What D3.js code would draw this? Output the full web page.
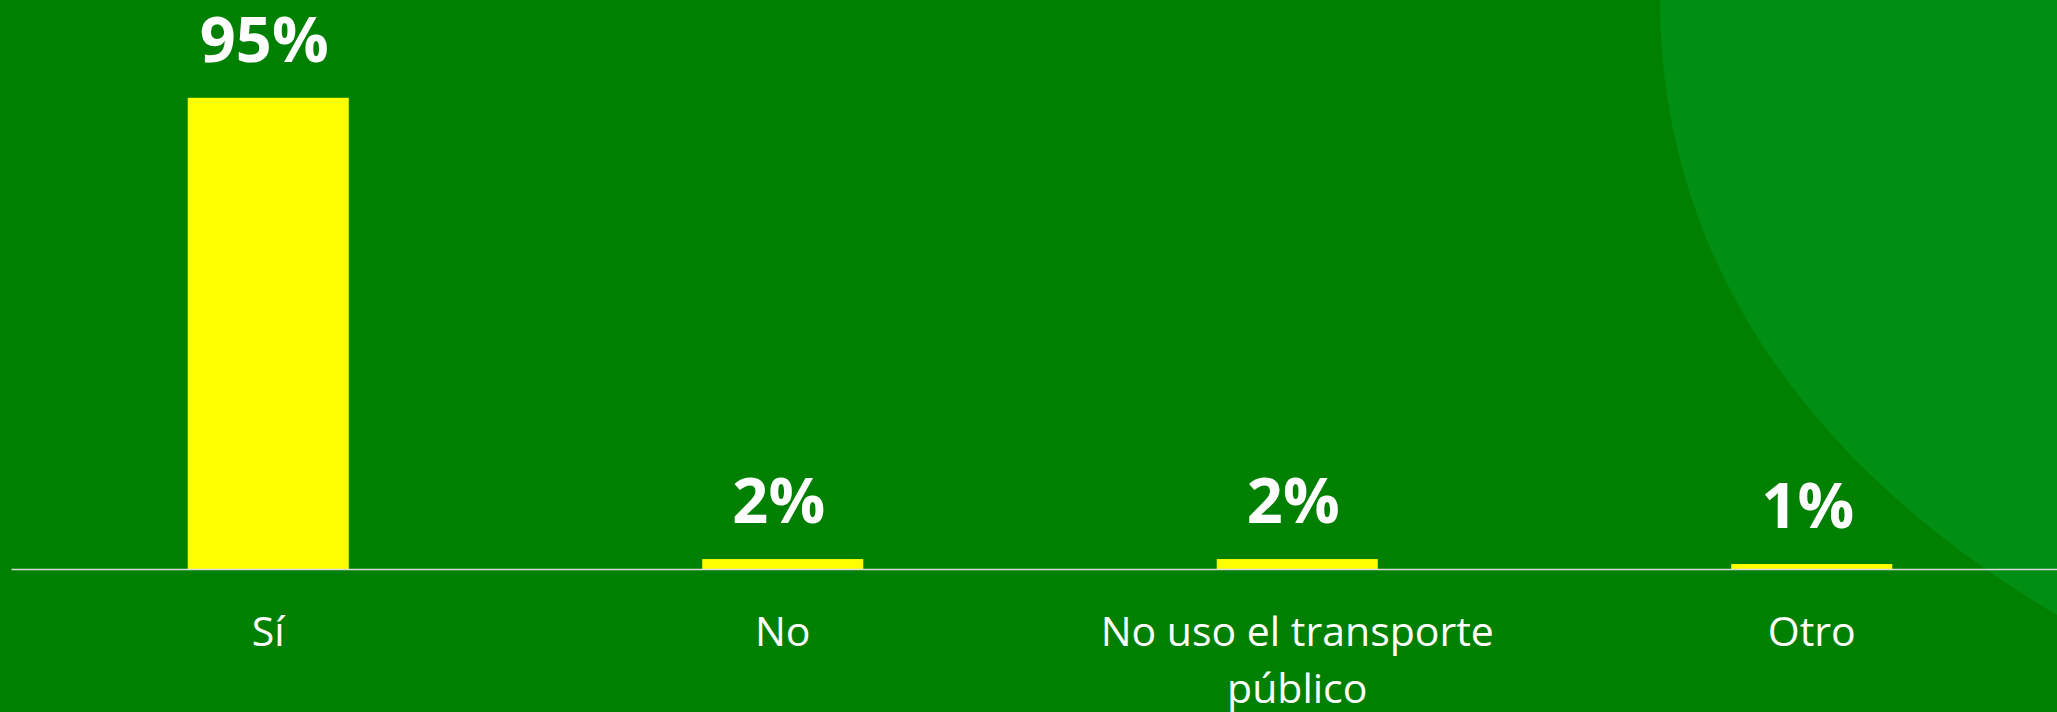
<!DOCTYPE html>
<html>
<head>
<meta charset="utf-8">
<script src="https://cdn.jsdelivr.net/npm/d3@7"></script>
<style>
  html, body { margin: 0; padding: 0; background: #008000; overflow: hidden; }
  svg { display: block; }
</style>
</head>
<body>
<svg id="chart"></svg>
<script>
// chart data
const categories = ["Sí", "No", "No uso el transporte público", "Otro"];
const values = [95, 2, 2, 1];
const valueLabels = ["95%", "2%", "2%", "1%"];

const width = 2057;
const height = 712;
const margin = {
    "left": 11,
    "right": -12,
    "top": 73,
    "bottom": 143
};

const svg = d3.select("#chart")
    .attr("width", width)
    .attr("height", height)
    .style("font-family", "'Open Sans', 'Noto Sans', sans-serif");

// background + the lighter curved shape at the right
svg.append("rect")
    .attr("width", width)
    .attr("height", height)
    .attr("fill", "#008000");

const deco = d3.path();
deco.moveTo(1660, 0);
deco.bezierCurveTo(1660, 250, 1799, 462, width, 615);
deco.lineTo(width, 0);
deco.closePath();
svg.append("path")
    .attr("d", deco.toString())
    .attr("fill", "#008f13");

// defining x-axis
const xScale = d3
    .scaleBand()
    .domain(categories)
    .range([margin.left, width - margin.right])
    .paddingInner(0.687)
    .paddingOuter(0.3435);

// defining y-axis
const yScale = d3
    .scaleLinear()
    .domain([0, 100])
    .range([height - margin.bottom, margin.top]);

const baseY = yScale(0);

svg.selectAll(".bar")
    .data(values)
    .enter()
    .append("rect")
    .attr("class", "bar")
    .attr("x", (d, i) => xScale(categories[i]))
    .attr("y", d => yScale(d))
    .attr("width", xScale.bandwidth())
    .attr("height", d => baseY - yScale(d))
    .attr("fill", "#ffff00");

const xAxis = d3
    .axisBottom(xScale)
    .tickSize(0)
    .tickPadding(0);

const xAxisGroup = svg.append("g")
    .attr("transform", `translate(0, ${baseY})`)
    .call(xAxis);

xAxisGroup.select(".domain")
    .attr("stroke", "#d9d9d9")
    .attr("stroke-width", 1.6);

xAxisGroup.selectAll(".tick text")
    .attr("fill", "#ffffff")
    .attr("font-size", 41)
    .attr("font-family", "'Open Sans', 'Noto Sans', sans-serif")
    .attr("y", 77)
    .attr("dy", 0)
    .call(wrap, xScale.step() * 0.85);

// value labels above the bars
svg.selectAll(".val")
    .data(values)
    .enter()
    .append("text")
    .attr("class", "val")
    .attr("x", (d, i) => xScale(categories[i]) + xScale.bandwidth() / 2 - 4)
    .attr("y", d => yScale(d) - 36)
    .attr("text-anchor", "middle")
    .attr("fill", "#ffffff")
    .attr("font-size", 63)
    .attr("font-weight", "bold")
    .text((d, i) => valueLabels[i]);

function wrap(texts, maxWidth) {
    texts.each(function () {
        const text = d3.select(this);
        const words = text.text().split(/\s+/);
        const y = text.attr("y");
        text.text(null);
        let line = [];
        let lineNo = 0;
        let tspan = text.append("tspan").attr("x", 0).attr("y", y);
        words.forEach(w => {
            line.push(w);
            tspan.text(line.join(" "));
            if (tspan.node().getComputedTextLength() > maxWidth && line.length > 1) {
                line.pop();
                tspan.text(line.join(" "));
                line = [w];
                lineNo++;
                tspan = text.append("tspan")
                    .attr("x", 0)
                    .attr("y", +y + lineNo * 57)
                    .text(w);
            }
        });
    });
}
</script>
</body>
</html>
